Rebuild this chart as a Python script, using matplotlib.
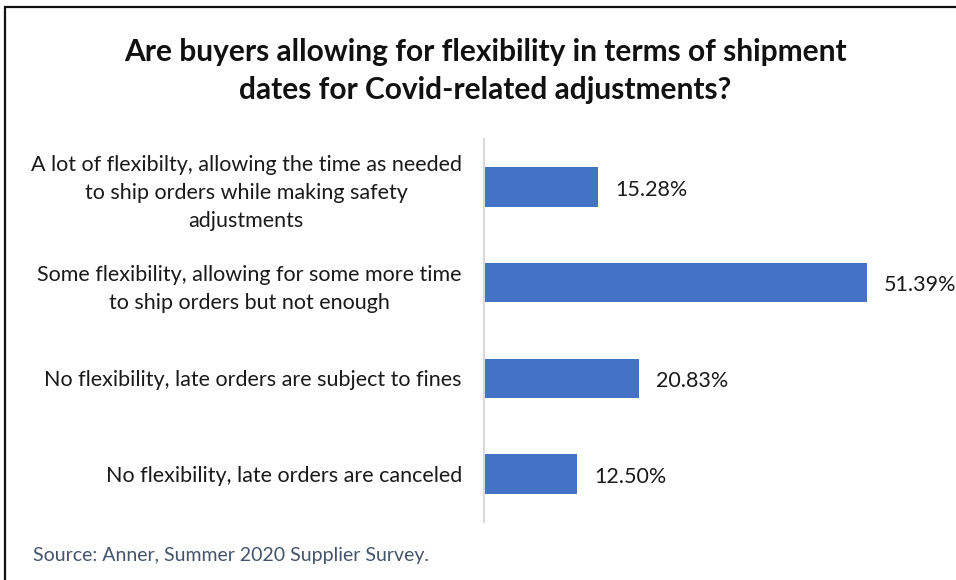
import matplotlib
matplotlib.use("Agg")
import matplotlib.pyplot as plt
from matplotlib.patches import Rectangle

categories = [
    "A lot of flexibilty, allowing the time as needed\nto ship orders while making safety\nadjustments",
    "Some flexibility, allowing for some more time\nto ship orders but not enough",
    "No flexibility, late orders are subject to fines",
    "No flexibility, late orders are canceled",
]
values = [15.28, 51.39, 20.83, 12.50]
value_labels = ["15.28%", "51.39%", "20.83%", "12.50%"]

title = "Are buyers allowing for flexibility in terms of shipment\ndates for Covid-related adjustments?"
source = "Source: Anner, Summer 2020 Supplier Survey."

W, H = 956, 580
fig = plt.figure(figsize=(W / 100, H / 100), dpi=100)
fig.patch.set_facecolor("white")

# axes: left edge at x=484px, top 139px, bottom 522px
ax_left, ax_right = 484, 484 + 60 * 7.45
ax_top, ax_bottom = 139, 522
ax = fig.add_axes([ax_left / W, 1 - ax_bottom / H,
                   (ax_right - ax_left) / W, (ax_bottom - ax_top) / H])

ypos = list(range(len(categories)))
ax.barh(ypos, values, height=0.41, color="#4472C4")
ax.set_xlim(0, 60)
ax.set_ylim(len(categories) - 0.5, -0.5)

for y, v, lab in zip(ypos, values, value_labels):
    ax.text(v + 2.3, y + 0.03, lab, va="center", ha="left",
            fontsize=15.5, family="Lato", color="#1a1a1a")

ax.set_yticks(ypos)
ax.set_yticklabels(categories, fontsize=15.5, family="Lato", color="#1a1a1a",
                   multialignment="center", linespacing=1.5)
ax.tick_params(axis="y", length=0, pad=16)
ax.set_xticks([])
for s in ["top", "right", "bottom"]:
    ax.spines[s].set_visible(False)
ax.spines["left"].set_color("#d9d9d9")
ax.spines["left"].set_linewidth(1.5)

fig.text(485 / W, 1 - 71 / H, title, ha="center", va="center",
         fontsize=21.5, fontweight="bold", family="Lato", color="#111111",
         linespacing=1.45)

fig.text(33 / W, 1 - 556 / H, source, ha="left", va="center",
         fontsize=14, family="Lato", color="#44546A")

# outer frame running off the right and bottom edges
fig.patches.append(Rectangle((5 / W, -0.1), 1.2, 1 - 7 / H + 0.1,
                             transform=fig.transFigure, fill=False,
                             edgecolor="#111111", linewidth=1.6))

fig.savefig("out.png", dpi=100, facecolor="white")
